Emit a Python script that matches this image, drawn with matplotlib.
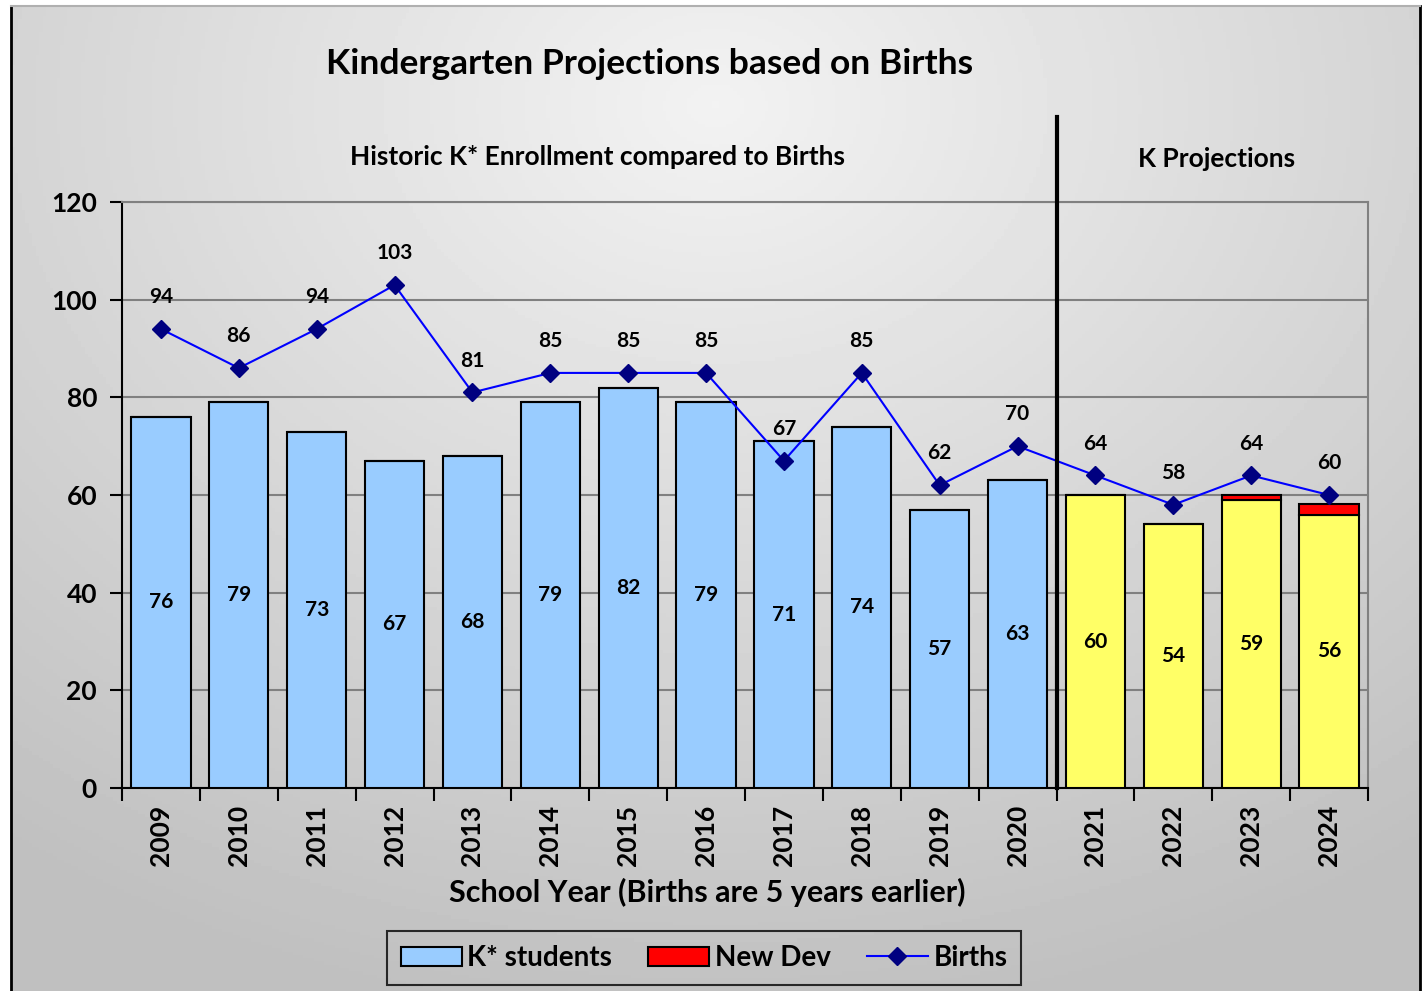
import numpy as np
import matplotlib
matplotlib.use("Agg")
import matplotlib.pyplot as plt
from matplotlib.patches import Patch
from matplotlib.lines import Line2D

plt.rcParams['font.family'] = ['Lato', 'DejaVu Sans']

# datos del grafico
anios = ['2009', '2010', '2011', '2012', '2013', '2014', '2015', '2016',
         '2017', '2018', '2019', '2020', '2021', '2022', '2023', '2024']
k_students = [76, 79, 73, 67, 68, 79, 82, 79, 71, 74, 57, 63, 60, 54, 59, 56]
new_dev = [0, 0, 0, 0, 0, 0, 0, 0, 0, 0, 0, 0, 0, 0, 1, 2.2]
births = [94, 86, 94, 103, 81, 85, 85, 85, 67, 85, 62, 70, 64, 58, 64, 60]
n_historicos = 12

W, H = 1426, 991
fig = plt.figure(figsize=(W / 100, H / 100), dpi=100)
fig.patch.set_facecolor('white')

# fondo con degradado
bg = fig.add_axes([11 / W, 0, (1420 - 11) / W, (H - 6) / H])
yy, xx = np.mgrid[0:1:300j, 0:1:400j]
r = np.sqrt(((xx - 0.5) * 1.0) ** 2 + ((yy - 0.9) * 0.9) ** 2)
grad = 0.95 - 0.2 * np.clip(r / 0.85, 0, 1)
bg.imshow(grad, cmap='gray', vmin=0, vmax=1, aspect='auto', origin='lower',
          extent=[0, 1, 0, 1])
bg.set_xticks([])
bg.set_yticks([])
for lado in ['left', 'right']:
    bg.spines[lado].set_color('black')
    bg.spines[lado].set_linewidth(2)
bg.spines['top'].set_color('#b0b0b0')
bg.spines['top'].set_linewidth(1.5)
bg.spines['bottom'].set_visible(False)
bg.set_zorder(0)

ax = fig.add_axes([122 / W, 1 - 788 / H, (1368 - 122) / W, (788 - 202) / H])
ax.set_facecolor('none')
ax.set_zorder(1)

x = np.arange(len(anios))
colores = ['#99ccff'] * n_historicos + ['#ffff66'] * (len(anios) - n_historicos)
ax.bar(x, k_students, width=0.76, color=colores, edgecolor='black', linewidth=1.5, zorder=3)
ax.bar(x, new_dev, width=0.76, bottom=k_students, color='#ff0000', edgecolor='black',
       linewidth=1.5, zorder=3)

ax.plot(x, births, color='#0000ff', linewidth=1.5, marker='D', markersize=9,
        markerfacecolor='#000080', markeredgecolor='#000080', zorder=4)

for xi, v in zip(x, k_students):
    ax.text(xi, v / 2, str(v), ha='center', va='center', fontsize=15, fontweight='bold', zorder=5)
for xi, v in zip(x, births):
    ax.annotate(str(v), (xi, v), xytext=(0, 23), textcoords='offset points',
                ha='center', va='center', fontsize=15, fontweight='bold', zorder=5)

ax.set_xlim(-0.5, len(anios) - 0.5)
ax.set_ylim(0, 120)
ax.set_yticks(range(0, 121, 20))
ax.yaxis.grid(True, color='#808080', linewidth=1.5, zorder=0)
ax.set_axisbelow(True)

ax.set_xticks(x)
ax.set_xticklabels(anios, rotation=90, fontsize=19, fontweight='bold')
ax.set_xticks(np.arange(-0.5, len(anios), 1), minor=True)
ax.tick_params(axis='x', which='major', length=0, pad=12)
ax.tick_params(axis='x', which='minor', length=9, width=1.5, color='black')
ax.tick_params(axis='y', length=9, width=1.5, labelsize=19, pad=9)
for lbl in ax.get_yticklabels():
    lbl.set_fontweight('bold')

ax.spines['left'].set_linewidth(1.5)
ax.spines['bottom'].set_linewidth(1.5)
ax.spines['top'].set_color('#808080')
ax.spines['right'].set_color('#808080')
ax.spines['top'].set_linewidth(1.5)
ax.spines['right'].set_linewidth(1.5)

# linea divisoria entre historico y proyecciones
ax.axvline(n_historicos - 0.5, ymin=0, ymax=(788 - 117) / (788 - 202), color='black',
           linewidth=3, clip_on=False, zorder=6)

fig.text(707 / W, 1 - 892 / H, 'School Year (Births are 5 years earlier)', ha='center', va='center',
         fontsize=22, fontweight='bold')
fig.text(650 / W, 1 - 64 / H, 'Kindergarten Projections based on Births', ha='center', va='center',
         fontsize=25.5, fontweight='bold')
fig.text(598 / W, 1 - 157 / H, 'Historic K* Enrollment compared to Births', ha='center', va='center',
         fontsize=19, fontweight='bold')
fig.text(1217 / W, 1 - 159 / H, 'K Projections', ha='center', va='center',
         fontsize=19, fontweight='bold')

handles = [Patch(facecolor='#99ccff', edgecolor='black', linewidth=1.5),
           Patch(facecolor='#ff0000', edgecolor='black', linewidth=1.5),
           Line2D([], [], color='#0000ff', linewidth=1.5, marker='D', markersize=9,
                  markerfacecolor='#000080', markeredgecolor='#000080')]
leg = fig.legend(handles, ['K* students', 'New Dev', 'Births'], loc='center',
                 bbox_to_anchor=(704 / W, 1 - 958 / H), ncol=3, frameon=True, fancybox=False,
                 prop={'size': 20, 'weight': 'bold'}, handlelength=2.2, handletextpad=0.2,
                 columnspacing=1.3, borderpad=0.5)
leg.get_frame().set_edgecolor('black')
leg.get_frame().set_linewidth(1.5)
leg.get_frame().set_facecolor('none')

fig.savefig('out.png', dpi=100)
